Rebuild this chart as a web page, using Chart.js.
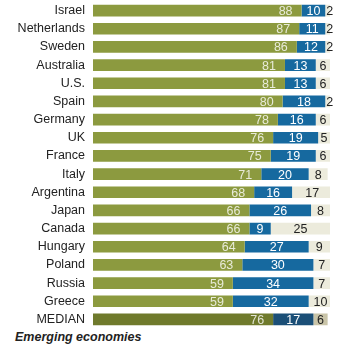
<!DOCTYPE html>
<html>
<head>
<meta charset="utf-8">
<script src="https://cdn.jsdelivr.net/npm/chart.js@4"></script>
<style>
  body { margin: 0; background: #fff; font-family: "Liberation Sans", Arial, sans-serif; }
  #wrap { position: relative; width: 350px; height: 329px; }
  #chart { position: absolute; left: 0; top: -14px; }
  #title { position: absolute; left: 15px; top: 330px; font-size: 12.5px; font-weight: bold; font-style: italic; color: #222; }
</style>
</head>
<body>
<div id="wrap"><canvas id="chart" width="350" height="358"></canvas></div>
<div id="title">Emerging economies</div>
<script>
const countries = ["Israel", "Netherlands", "Sweden", "Australia", "U.S.", "Spain", "Germany", "UK", "France", "Italy",
  "Argentina", "Japan", "Canada", "Hungary", "Poland", "Russia", "Greece", "MEDIAN"];
const firstValues = [88, 87, 86, 81, 81, 80, 78, 76, 75, 71, 68, 66, 66, 64, 63, 59, 59, 76];
const secondValues = [10, 11, 12, 13, 13, 18, 16, 19, 19, 20, 16, 26, 9, 27, 30, 34, 32, 17];
const thirdValues = [2, 2, 2, 6, 6, 2, 6, 5, 6, 8, 17, 8, 25, 9, 7, 7, 10, 6];

const medianIndex = countries.length - 1;
function colors(normal, median) {
  return countries.map((c, i) => (i === medianIndex ? median : normal));
}

const labelPlugin = {
  id: "segmentLabels",
  afterDatasetsDraw(chart) {
    const ctx = chart.ctx;
    ctx.save();
    ctx.font = "12.5px 'Liberation Sans', Arial, sans-serif";
    ctx.textBaseline = "middle";
    chart.data.datasets.forEach((ds, di) => {
      const meta = chart.getDatasetMeta(di);
      meta.data.forEach((bar, i) => {
        const v = ds.data[i];
        const left = Math.min(bar.base, bar.x);
        const right = Math.max(bar.base, bar.x);
        if (di === 0) {
          ctx.fillStyle = "rgba(255,255,255,0.8)";
          ctx.textAlign = "right";
          ctx.fillText(v, right - 9, bar.y + 1);
        } else if (di === 1) {
          ctx.fillStyle = "#fff";
          ctx.textAlign = "center";
          ctx.fillText(v, (left + right) / 2, bar.y + 1);
        } else {
          ctx.fillStyle = "#222";
          if (v < 4) {
            ctx.textAlign = "left";
            ctx.fillText(v, left + 1, bar.y + 1);
          } else {
            ctx.textAlign = "center";
            ctx.fillText(v, (left + right) / 2, bar.y + 1);
          }
        }
      });
    });
    ctx.restore();
  }
};

new Chart(document.getElementById("chart").getContext("2d"), {
  type: "bar",
  data: {
    labels: countries,
    datasets: [
      { data: firstValues, backgroundColor: colors("#8c9a3f", "#6f7a2c") },
      { data: secondValues, backgroundColor: colors("#16699f", "#1b4f77") },
      { data: thirdValues, backgroundColor: colors("#ecebdc", "#c9c4a8") }
    ]
  },
  options: {
    indexAxis: "y",
    responsive: false,
    animation: false,
    layout: { padding: { top: 0, right: 20, bottom: 0, left: 0 } },
    datasets: { bar: { barPercentage: 0.64, categoryPercentage: 1 } },
    plugins: { legend: { display: false }, tooltip: { enabled: false } },
    scales: {
      x: { stacked: true, min: 0, max: 100, display: false },
      y: {
        stacked: true,
        grid: { display: false, drawTicks: false },
        border: { display: false },
        afterFit(scale) { scale.width = 93; },
        ticks: {
          padding: 8,
          color: "#222",
          font: { family: "'Liberation Sans', Arial, sans-serif", size: 12.5 }
        }
      }
    }
  },
  plugins: [labelPlugin]
});
</script>
</body>
</html>
